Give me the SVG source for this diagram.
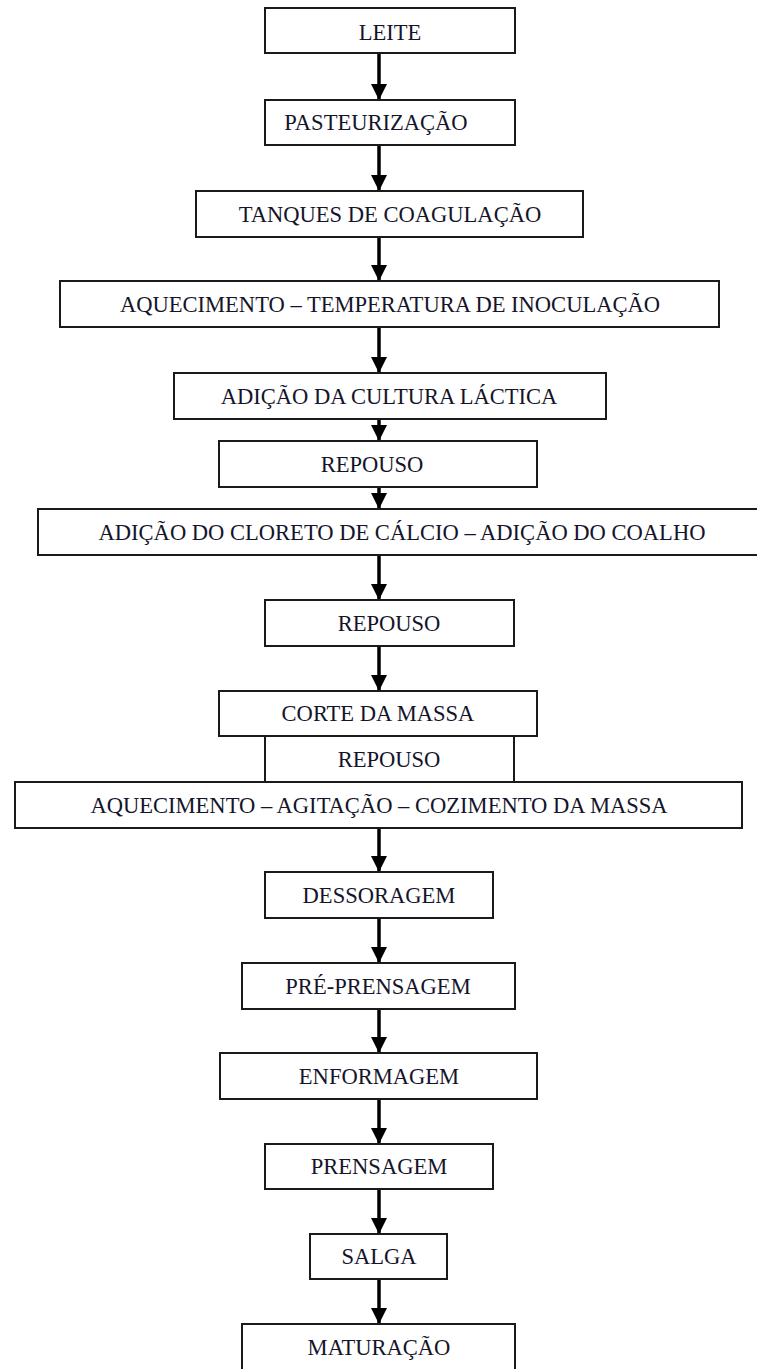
<svg xmlns="http://www.w3.org/2000/svg" width="757" height="1369" viewBox="0 0 757 1369">
<style>
.box{fill:#fff;stroke:#1a1a1a;stroke-width:2}
.t{font-family:"Liberation Serif","Times New Roman",serif;font-size:23.5px;fill:#14142a;text-anchor:middle}
.c{stroke:#000;stroke-width:3.5;fill:none}
</style>
<defs>
<marker id="ah" markerUnits="userSpaceOnUse" markerWidth="18" markerHeight="16" refX="16" refY="8" orient="auto">
<path d="M0,0 L16,8 L0,16 Z" fill="#000"/>
</marker>
</defs>
<rect width="757" height="1369" fill="#fff"/>
<g id="connectors">
<line class="c" x1="379" y1="54" x2="379" y2="100" marker-end="url(#ah)"/>
<line class="c" x1="379" y1="146" x2="379" y2="191" marker-end="url(#ah)"/>
<line class="c" x1="379" y1="238" x2="379" y2="281" marker-end="url(#ah)"/>
<line class="c" x1="379" y1="328" x2="379" y2="373" marker-end="url(#ah)"/>
<line class="c" x1="379" y1="420" x2="379" y2="441" marker-end="url(#ah)"/>
<line class="c" x1="379" y1="488" x2="379" y2="509" marker-end="url(#ah)"/>
<line class="c" x1="379" y1="556" x2="379" y2="600" marker-end="url(#ah)"/>
<line class="c" x1="379" y1="647" x2="379" y2="691" marker-end="url(#ah)"/>
<line class="c" x1="379" y1="829" x2="379" y2="872" marker-end="url(#ah)"/>
<line class="c" x1="379" y1="919" x2="379" y2="963" marker-end="url(#ah)"/>
<line class="c" x1="379" y1="1010" x2="379" y2="1053" marker-end="url(#ah)"/>
<line class="c" x1="379" y1="1100" x2="379" y2="1144" marker-end="url(#ah)"/>
<line class="c" x1="379" y1="1190" x2="379" y2="1234" marker-end="url(#ah)"/>
<line class="c" x1="379" y1="1280" x2="379" y2="1324" marker-end="url(#ah)"/>
</g>
<g id="n1"><rect class="box" x="265" y="8" width="250" height="45"/><text class="t" transform="scale(0.96,1)" x="406.25" y="40">LEITE</text></g>
<g id="n2"><rect class="box" x="265" y="100" width="250" height="45"/><text class="t" transform="scale(0.96,1)" x="391.67" y="130">PASTEURIZAÇÃO</text></g>
<g id="n3"><rect class="box" x="196" y="191" width="387" height="46"/><text class="t" transform="scale(0.96,1)" x="406.25" y="222">TANQUES DE COAGULAÇÃO</text></g>
<g id="n4"><rect class="box" x="60" y="281" width="659" height="46"/><text class="t" transform="scale(0.96,1)" x="406.25" y="312">AQUECIMENTO – TEMPERATURA DE INOCULAÇÃO</text></g>
<g id="n5"><rect class="box" x="174" y="373" width="432" height="46"/><text class="t" transform="scale(0.96,1)" x="405.21" y="404">ADIÇÃO DA CULTURA LÁCTICA</text></g>
<g id="n6"><rect class="box" x="219" y="441" width="318" height="46"/><text class="t" transform="scale(0.96,1)" x="387.5" y="472">REPOUSO</text></g>
<g id="n7"><rect class="box" x="38" y="509" width="720" height="46"/><text class="t" transform="scale(0.96,1)" x="418.75" y="540">ADIÇÃO DO CLORETO DE CÁLCIO – ADIÇÃO DO COALHO</text></g>
<g id="n8"><rect class="box" x="265" y="600" width="249" height="46"/><text class="t" transform="scale(0.96,1)" x="405.21" y="631">REPOUSO</text></g>
<g id="n9"><rect class="box" x="219" y="691" width="318" height="45"/><text class="t" transform="scale(0.96,1)" x="393.75" y="721">CORTE DA MASSA</text></g>
<g id="n10"><rect class="box" x="265" y="736" width="249" height="46"/><text class="t" transform="scale(0.96,1)" x="405.21" y="767">REPOUSO</text></g>
<g id="n11"><rect class="box" x="15" y="782" width="727" height="46"/><text class="t" transform="scale(0.96,1)" x="394.79" y="813">AQUECIMENTO – AGITAÇÃO – COZIMENTO DA MASSA</text></g>
<g id="n12"><rect class="box" x="265" y="872" width="228" height="46"/><text class="t" transform="scale(0.96,1)" x="394.79" y="903">DESSORAGEM</text></g>
<g id="n13"><rect class="box" x="242" y="963" width="273" height="46"/><text class="t" transform="scale(0.96,1)" x="393.75" y="994">PRÉ-PRENSAGEM</text></g>
<g id="n14"><rect class="box" x="220" y="1053" width="317" height="46"/><text class="t" transform="scale(0.96,1)" x="394.79" y="1084">ENFORMAGEM</text></g>
<g id="n15"><rect class="box" x="265" y="1144" width="228" height="45"/><text class="t" transform="scale(0.96,1)" x="394.79" y="1174">PRENSAGEM</text></g>
<g id="n16"><rect class="box" x="310" y="1234" width="137" height="45"/><text class="t" transform="scale(0.96,1)" x="394.79" y="1264">SALGA</text></g>
<g id="n17"><rect class="box" x="242" y="1324" width="273" height="60"/><text class="t" transform="scale(0.96,1)" x="394.79" y="1355">MATURAÇÃO</text></g>
</svg>
